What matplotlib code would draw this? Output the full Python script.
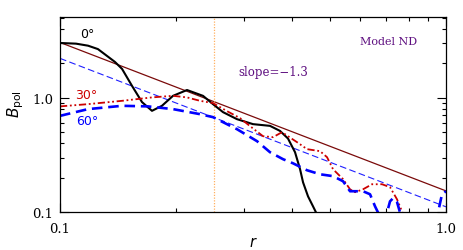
import numpy as np
import matplotlib
matplotlib.use("Agg")
import matplotlib.pyplot as plt
from matplotlib.ticker import NullFormatter

# B_pol profiles (r, B)
r_0 = [0.100, 0.110, 0.1182, 0.1254, 0.1388, 0.1448, 0.1537, 0.1631, 0.1731, 0.1837,
       0.1962, 0.2133, 0.2347, 0.2491, 0.2644, 0.2874, 0.3162, 0.3499, 0.3715, 0.3896,
       0.4063, 0.4187, 0.4262, 0.4391, 0.4524, 0.4606, 0.48]
b_0 = [3.02, 2.98, 2.86, 2.67, 2.06, 1.79, 1.27, 0.917, 0.769, 0.851,
       1.04, 1.17, 1.04, 0.88, 0.749, 0.650, 0.588, 0.568, 0.513, 0.44,
       0.334, 0.237, 0.182, 0.137, 0.112, 0.099, 0.08]

r_30 = [0.100, 0.1182, 0.1448, 0.1731, 0.1962, 0.2133, 0.2305, 0.2491, 0.2708, 0.2927,
        0.3106, 0.3357, 0.3563, 0.3760, 0.3896, 0.4111, 0.4365, 0.4717, 0.4918, 0.5097,
        0.5410, 0.5641, 0.5811, 0.6095, 0.6432, 0.6828, 0.7161, 0.7467, 0.7693, 0.80, 1.0]
b_30 = [0.841, 0.880, 0.941, 1.008, 1.041, 1.008, 0.941, 0.899, 0.764, 0.664,
        0.565, 0.461, 0.452, 0.500, 0.461, 0.409, 0.355, 0.341, 0.302, 0.237,
        0.194, 0.158, 0.149, 0.158, 0.175, 0.175, 0.165, 0.129, 0.101, 0.07, 0.05]

r_60 = [0.100, 0.1182, 0.1448, 0.1690, 0.1962, 0.2305, 0.2491, 0.2874, 0.3239, 0.3499,
        0.3783, 0.4014, 0.4365, 0.4717, 0.5097, 0.5410, 0.5641, 0.5811, 0.6095, 0.6356,
        0.6549, 0.6667, 0.685, 0.7035, 0.7161, 0.7291, 0.7467, 0.7602, 0.78, 0.94,
        0.9535, 0.9763, 1.0]
b_60 = [0.695, 0.796, 0.851, 0.841, 0.796, 0.719, 0.677, 0.531, 0.417, 0.334,
        0.290, 0.267, 0.232, 0.214, 0.206, 0.186, 0.152, 0.152, 0.152, 0.143,
        0.112, 0.099, 0.06, 0.099, 0.124, 0.132, 0.122, 0.099, 0.06, 0.06,
        0.099, 0.143, 0.152]

# power-law guide lines B = A * r^slope
slope = -1.3
amp_top = 0.153
amp_low = 0.111
r_mark = 0.25

fig = plt.figure(figsize=(4.63, 2.51), dpi=100)
ax = fig.add_axes([0.1296, 0.1514, 0.8337, 0.7769])

rr = np.array([0.1, 1.0])
ax.plot(rr, amp_top * rr**slope, color="#7a0a0a", lw=0.9)
ax.plot(rr, amp_low * rr**slope, color="#2020ff", lw=0.8, dashes=(6, 3))
ax.axvline(r_mark, color="#ffb060", lw=0.9, ls=(0, (1, 1.2)))

ax.plot(r_0, b_0, color="black", lw=1.5)
ax.plot(r_30, b_30, color="#cc0000", lw=1.3, dashes=(4, 1.5, 1, 1.5, 1, 1.5))
ax.plot(r_60, b_60, color="#0000ff", lw=1.9, dashes=(4, 2.2))

ax.set_xscale("log")
ax.set_yscale("log")
ax.set_xlim(0.1, 1.0)
ax.set_ylim(0.1, 5.1)

ax.set_xticks([0.1, 1.0])
ax.set_xticklabels(["0.1", "1.0"])
ax.set_yticks([0.1, 1.0])
ax.set_yticklabels(["0.1", "1.0"])
ax.xaxis.set_minor_formatter(NullFormatter())
ax.yaxis.set_minor_formatter(NullFormatter())
ax.tick_params(which="both", direction="in", top=True, right=True, width=0.8)
ax.tick_params(which="major", length=6.5, pad=5)
ax.tick_params(which="minor", length=3)
ax.tick_params(axis="x", which="major", pad=7)
for lab in ax.get_xticklabels() + ax.get_yticklabels():
    lab.set_family("DejaVu Serif")
    lab.set_fontsize(9.5)
for s in ax.spines.values():
    s.set_linewidth(0.9)

ax.set_xlabel(r"$r$", fontsize=10.5, va="center")
ax.xaxis.set_label_coords(0.5, -0.15)
ax.set_ylabel(r"$B_{\rm pol}$", fontsize=11, va="center")
ax.yaxis.set_label_coords(-0.115, 0.56)

ax.text(0.052, 0.913, "0°", transform=ax.transAxes, color="black", fontsize=9, va="center")
ax.text(0.039, 0.605, "30°", transform=ax.transAxes, color="#cc0000", fontsize=9, va="center")
ax.text(0.041, 0.467, "60°", transform=ax.transAxes, color="#0000ff", fontsize=9, va="center")
ax.text(0.777, 0.877, "Model ND", transform=ax.transAxes, color="#5e0f80",
        fontsize=8, family="DejaVu Serif", va="center")
ax.text(0.461, 0.723, "slope=\u22121.3", transform=ax.transAxes, color="#5e0f80",
        fontsize=8.5, family="DejaVu Serif", va="center")

fig.savefig("out.png", dpi=100)
